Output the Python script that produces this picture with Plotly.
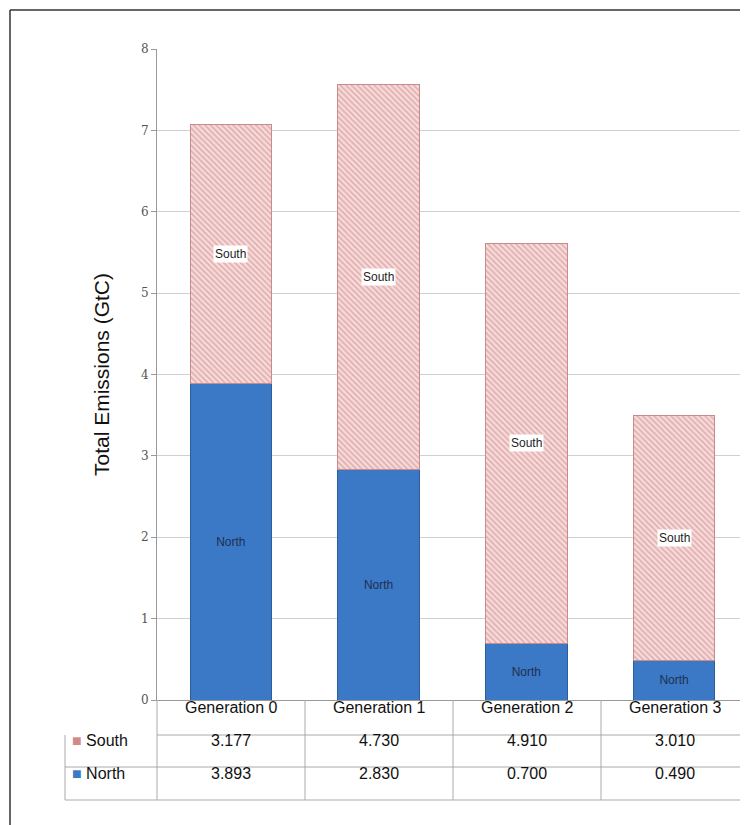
import plotly.graph_objects as go

categories = ["Generation 0", "Generation 1", "Generation 2", "Generation 3"]
north = [3.893, 2.830, 0.700, 0.490]
south = [3.177, 4.730, 4.910, 3.010]

OFF = 8  # page body margin
W, H = 748 - OFF, 825 - OFF
L, R, T, B = 157 - OFF, 748 - OFF, 49 - OFF, 700 - OFF


def px(x):
    return (x - OFF - L) / (R - L)


def py(y):
    return (B - (y - OFF)) / (B - T)


fig = go.Figure()
fig.add_trace(go.Bar(x=categories, y=north, name="North", width=0.55,
                     marker=dict(color="#3b78c6", line=dict(color="#2a5f9e", width=1)),
                     text=["North"] * 4, textposition="inside", insidetextanchor="middle",
                     textfont=dict(color="#1f3050", size=12, family="Liberation Sans")))
fig.add_trace(go.Bar(x=categories, y=south, name="South", width=0.55,
                     marker=dict(color="#f3d4d4", line=dict(color="#c98a8a", width=1),
                                 pattern=dict(shape="\\", fgcolor="#d07f7f", bgcolor="#f6dcdc",
                                              size=4, solidity=0.45))))

ann = []
for i, c in enumerate(categories):
    ann.append(dict(x=c, y=north[i] + south[i] / 2, text="South", showarrow=False,
                    bgcolor="white", font=dict(size=12, color="#222", family="Liberation Sans")))

shapes = []
for yy in [735, 767, 800]:
    shapes.append(dict(type="line", xref="paper", yref="paper", x0=px(65 if yy > 735 else 157), x1=1,
                       y0=py(yy), y1=py(yy), line=dict(color="#aaa", width=1)))
for xx in [157, 305, 453, 601]:
    shapes.append(dict(type="line", xref="paper", yref="paper", x0=px(xx), x1=px(xx),
                       y0=py(700), y1=py(800), line=dict(color="#aaa", width=1)))
shapes.append(dict(type="line", xref="paper", yref="paper", x0=px(65), x1=px(65),
                   y0=py(735), y1=py(800), line=dict(color="#aaa", width=1)))
shapes.append(dict(type="line", xref="paper", yref="paper", x0=px(10), x1=px(770),
                   y0=py(10), y1=py(10), line=dict(color="#333", width=1.5)))
shapes.append(dict(type="line", xref="paper", yref="paper", x0=px(10), x1=px(10),
                   y0=py(10), y1=py(840), line=dict(color="#333", width=1.5)))

cx = [231, 379, 527, 675]
f16 = dict(size=16, color="#111", family="Liberation Sans")
for i, c in enumerate(categories):
    ann.append(dict(x=px(cx[i]), y=py(718), xref="paper", yref="paper", text=c, showarrow=False,
                    xanchor="center", font=f16))
    ann.append(dict(x=px(cx[i]), y=py(751), xref="paper", yref="paper", text=f"{south[i]:.3f}",
                    xanchor="center", showarrow=False, font=f16))
    ann.append(dict(x=px(cx[i]), y=py(784), xref="paper", yref="paper", text=f"{north[i]:.3f}",
                    xanchor="center", showarrow=False, font=f16))
ann.append(dict(x=px(70), y=py(751), xref="paper", yref="paper", xanchor="left", showarrow=False,
                text="<span style='color:#d08a8a'>■</span> South", font=f16))
ann.append(dict(x=px(70), y=py(784), xref="paper", yref="paper", xanchor="left", showarrow=False,
                text="<span style='color:#3b78c6'>■</span> North", font=f16))

fig.update_layout(
    width=W, height=H, barmode="stack", showlegend=False,
    margin=dict(l=L, r=W - R, t=T, b=H - B),
    paper_bgcolor="white", plot_bgcolor="white",
    xaxis=dict(showticklabels=False, range=[-0.5, 3.5], showline=True, linecolor="#999"),
    yaxis=dict(range=[0, 8], dtick=1, showgrid=True, gridcolor="#d0d0d0", showline=True,
               linecolor="#999", ticks="outside", tickcolor="#999", ticklen=5,
               tickfont=dict(size=12, color="#555", family="DejaVu Serif"),
               title=dict(text="Total Emissions (GtC)", standoff=25,
                          font=dict(size=21, color="#111", family="Liberation Sans"))),
    annotations=ann, shapes=shapes,
)
fig.write_html("out.html")
